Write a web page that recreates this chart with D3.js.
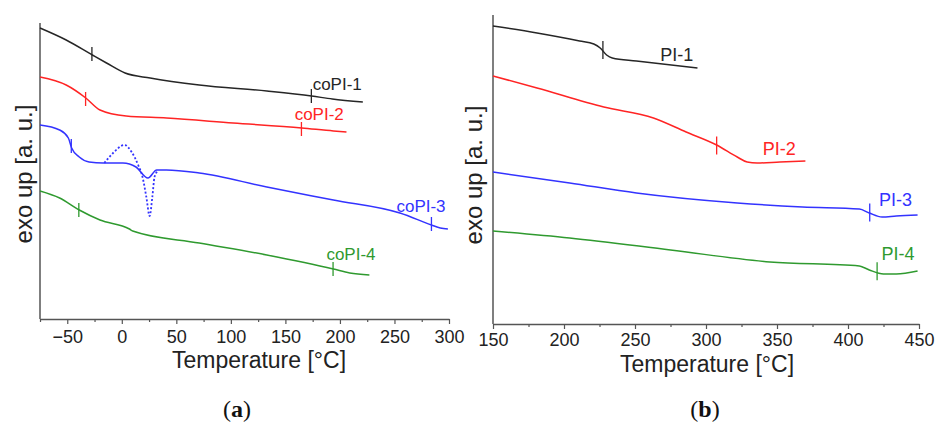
<!DOCTYPE html>
<html>
<head>
<meta charset="utf-8">
<script src="https://cdn.jsdelivr.net/npm/d3@7"></script>
<style>
  body { margin: 0; background: #fff; }
  svg { display: block; }
</style>
</head>
<body>
<div id="chart-container"></div>
<script>
// DSC traces, [temperature °C, heat flow a.u.]
const copi1 = [[-75, 291], [-51, 279], [-27, 264], [-14, 256], [3, 246], [26, 241], [71, 234], [133, 228], [174, 223], [193, 220], [221, 217]];
const copi2 = [[-75, 242], [-51, 234], [-33, 221], [-20, 209], [4, 203], [41, 201], [102, 196], [165, 191], [194, 188], [206, 187]];
const copi3 = [[-75, 194], [-57, 189], [-49, 181], [-46, 171], [-39, 162], [-30, 157], [-17, 156], [1, 156], [13, 152], [24, 141], [32, 149], [41, 149], [71, 146], [133, 132], [194, 119], [255, 106], [284, 94], [292, 91], [299, 90]];
const copi3Dashed = [[-16, 156], [-8, 166], [2.6, 174], [9, 167], [15, 154], [19, 142], [22.5, 122], [25.5, 103], [28, 122], [30, 142], [33, 148]];
const copi4 = [[-75, 128], [-57, 121], [-39, 109], [-20, 99], [7, 90], [10, 88], [71, 76], [133, 64], [194, 50], [209, 46], [227, 44]];

const pi1 = [[150, 298], [181, 291], [211, 283], [221, 280], [225.5, 276], [230, 269], [234, 266], [251, 263], [294, 256]];
const pi2 = [[150, 248], [181, 236], [228, 217], [263, 206], [286, 192], [307.5, 179], [322, 167], [329, 162], [336, 161], [352, 162], [370, 163]];
const pi3 = [[150, 152], [204, 141], [251, 131], [322, 121], [368, 117], [408, 115], [415, 111], [424, 107], [434, 108], [449, 109]];
const pi4 = [[150, 93], [204, 86], [275, 74], [345, 62], [408, 58], [415, 54], [425, 50], [434, 50], [449, 53]];

// glass transition marks [temperature, level]
const copiTg = [[[-27.4, 265], [173.8, 223]], [[-33.2, 220], [164.7, 190]], [[-46.3, 173], [283.9, 95]], [[-39.4, 109], [193.7, 50]]];
const piTg = [[[227.4, 274]], [[307.5, 178.5]], [[415.3, 111.5]], [[420.5, 52.7]]];

// labels [name, temperature, level]
const copiLabels = [["coPI-1", 175, 229], ["coPI-2", 158.5, 199], ["coPI-3", 251.8, 107], ["coPI-4", 187.6, 59]];
const piLabels = [["PI-1", 267.7, 263], ["PI-2", 339.9, 169], ["PI-3", 421.9, 118], ["PI-4", 423.6, 64]];

const colors = ["#262626", "#ff2424", "#3333ff", "#2f9a2f"];

const width = 938;
const height = 426;

const svg = d3.select("#chart-container")
  .append("svg")
  .attr("width", width)
  .attr("height", height)
  .style("font-family", "'Liberation Sans', Arial, sans-serif");

function drawPanel(opts) {
  const x = d3.scaleLinear().domain(opts.xDomain).range(opts.xRange);
  const y = d3.scaleLinear().domain(opts.yDomain).range(opts.yRange);
  const g = svg.append("g");

  // minor ticks
  g.append("g")
    .attr("transform", `translate(0,${opts.yRange[0]})`)
    .call(d3.axisBottom(x).tickValues(opts.minorTicks).tickSize(3).tickFormat(""))
    .call(a => a.select(".domain").remove())
    .call(a => a.selectAll("line").attr("stroke", "#555").attr("stroke-width", 1.2));

  // major ticks + labels
  const axis = g.append("g")
    .attr("transform", `translate(0,${opts.yRange[0]})`)
    .call(d3.axisBottom(x).tickValues(opts.majorTicks).tickSize(5).tickPadding(opts.tickPad).tickSizeOuter(0));
  axis.select(".domain").attr("stroke", "#555").attr("stroke-width", 1.5);
  axis.selectAll("line").attr("stroke", "#555").attr("stroke-width", 1.2);
  axis.selectAll("text")
    .attr("fill", "#222")
    .style("font-size", "18px")
    .style("font-family", "'Liberation Sans', Arial, sans-serif");

  // y axis line (no ticks)
  g.append("line")
    .attr("x1", opts.xRange[0]).attr("x2", opts.xRange[0])
    .attr("y1", opts.yRange[0]).attr("y2", opts.yRange[1])
    .attr("stroke", "#555")
    .attr("stroke-width", 1.5);

  const line = d3.line()
    .x(d => x(d[0]))
    .y(d => y(d[1]))
    .curve(d3.curveMonotoneX);

  opts.series.forEach((s, i) => {
    g.append("path")
      .attr("d", line(s))
      .attr("fill", "none")
      .attr("stroke", colors[i])
      .attr("stroke-width", 1.5);
  });

  if (opts.dashed) {
    g.append("path")
      .attr("d", line(opts.dashed))
      .attr("fill", "none")
      .attr("stroke", colors[2])
      .attr("stroke-width", 1.8)
      .attr("stroke-dasharray", "2,2");
  }

  // Tg marks
  opts.tg.forEach((marks, i) => {
    g.selectAll(null)
      .data(marks)
      .enter()
      .append("line")
      .attr("x1", d => x(d[0])).attr("x2", d => x(d[0]))
      .attr("y1", d => y(d[1]) - opts.tgHalf)
      .attr("y2", d => y(d[1]) + opts.tgHalf)
      .attr("stroke", colors[i])
      .attr("stroke-width", 1.3);
  });

  // curve labels
  g.selectAll(null)
    .data(opts.labels)
    .enter()
    .append("text")
    .attr("x", d => x(d[1]))
    .attr("y", d => y(d[2]))
    .attr("fill", (d, i) => colors[i])
    .style("font-size", opts.labelSize)
    .text(d => d[0]);

  // axis titles
  g.append("text")
    .attr("x", opts.titleX)
    .attr("y", opts.titleY)
    .attr("text-anchor", "middle")
    .attr("fill", "#222")
    .style("font-size", "23px")
    .text("Temperature [°C]");

  g.append("text")
    .attr("transform", `translate(${opts.yTitleX},${opts.yTitleY}) rotate(-90)`)
    .attr("text-anchor", "middle")
    .attr("fill", "#222")
    .style("font-size", "24px")
    .text("exo up [a. u.]");

  // panel letter
  const letter = g.append("text")
    .attr("x", opts.letterX)
    .attr("y", 417)
    .attr("text-anchor", "middle")
    .attr("fill", "#111")
    .style("font-family", "'Liberation Serif', 'DejaVu Serif', serif")
    .style("font-size", "24px");
  letter.append("tspan").text("(");
  letter.append("tspan").style("font-weight", "bold").text(opts.letter);
  letter.append("tspan").text(")");
}

// Panel (a): copolyimides
drawPanel({
  xDomain: [-75, 300], xRange: [40, 449],
  yDomain: [0, 296], yRange: [319, 23],
  majorTicks: d3.range(-50, 301, 50),
  minorTicks: d3.range(-75, 300, 50),
  tickPad: 6,
  series: [copi1, copi2, copi3, copi4],
  dashed: copi3Dashed,
  tg: copiTg, tgHalf: 7,
  labels: copiLabels, labelSize: "17px",
  titleX: 259, titleY: 368,
  yTitleX: 32, yTitleY: 174,
  letter: "a", letterX: 237
});

// Panel (b): homopolyimides
drawPanel({
  xDomain: [150, 450], xRange: [493, 919],
  yDomain: [0, 309], yRange: [324, 15],
  majorTicks: d3.range(150, 451, 50),
  minorTicks: d3.range(175, 450, 50),
  tickPad: 4,
  series: [pi1, pi2, pi3, pi4],
  dashed: null,
  tg: piTg, tgHalf: 9,
  labels: piLabels, labelSize: "18px",
  titleX: 707, titleY: 372,
  yTitleX: 482, yTitleY: 175,
  letter: "b", letterX: 705
});
</script>
</body>
</html>
